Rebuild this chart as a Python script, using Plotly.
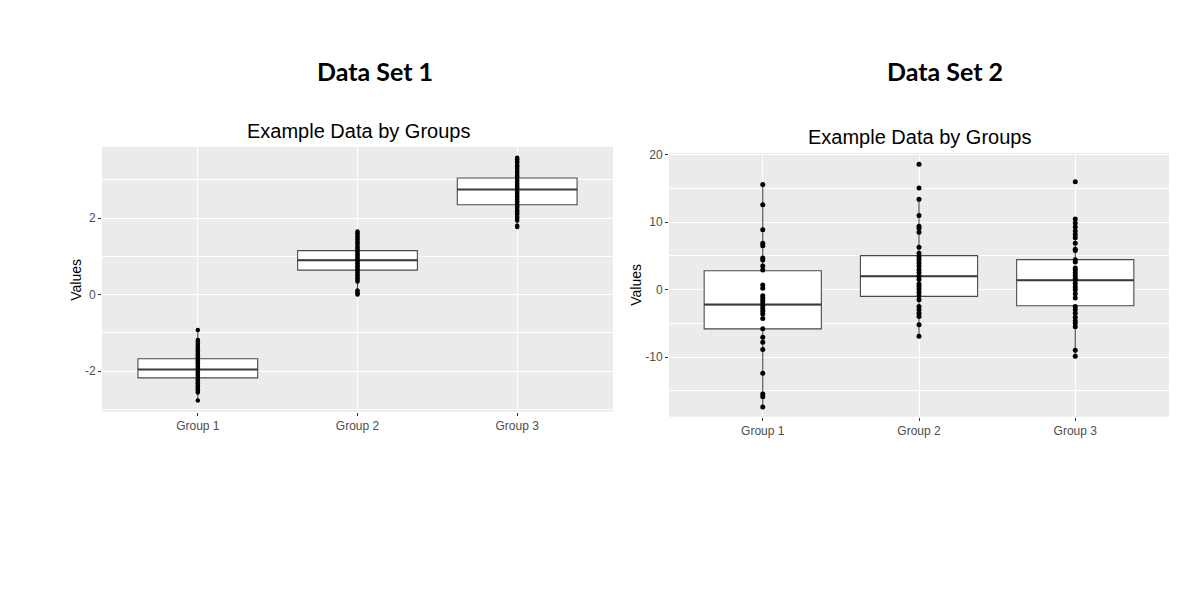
import plotly.graph_objects as go

groups = ["Group 1", "Group 2", "Group 3"]

# ---------- Data Set 1 ----------
ds1_g1 = [-0.93, -1.19, -1.23, -1.28, -1.32, -1.37, -1.41, -1.46, -1.50, -1.55, -1.59, -1.64,
          -1.68, -1.72, -1.76, -1.80, -1.84, -1.88, -1.92, -1.96, -2.00, -2.04, -2.08, -2.12,
          -2.16, -2.20, -2.24, -2.28, -2.32, -2.36, -2.40, -2.44, -2.48, -2.52, -2.56, -2.77]
ds1_g2 = [1.65, 1.61, 1.57, 1.52, 1.48, 1.44, 1.39, 1.35, 1.31, 1.26, 1.22, 1.18, 1.13, 1.09,
          1.05, 1.01, 0.97, 0.93, 0.90, 0.86, 0.82, 0.78, 0.74, 0.70, 0.66, 0.62, 0.58, 0.54,
          0.50, 0.46, 0.42, 0.38, 0.34, 0.11, 0.07, 0.03, 0.00]
ds1_g3 = [3.58, 3.54, 3.49, 3.45, 3.40, 3.36, 3.31, 3.27, 3.22, 3.18, 3.13, 3.09, 3.05, 3.00,
          2.96, 2.91, 2.87, 2.83, 2.79, 2.75, 2.70, 2.66, 2.62, 2.57, 2.53, 2.49, 2.44, 2.40,
          2.36, 2.31, 2.27, 2.22, 2.18, 2.13, 2.09, 2.04, 1.99, 1.94, 1.80, 1.77]
ds1_q1 = [-2.18, 0.64, 2.35]
ds1_median = [-1.96, 0.90, 2.75]
ds1_q3 = [-1.68, 1.15, 3.05]
ds1_lower = [-2.77, 0.00, 1.77]
ds1_upper = [-0.93, 1.65, 3.58]

# ---------- Data Set 2 ----------
ds2_g1 = [15.6, 12.6, 8.9, 6.9, 6.5, 4.7, 4.4, 3.5, 2.9, 0.7, 0.2, -0.9, -1.25, -1.6, -2.0,
          -2.4, -2.8, -3.2, -3.6, -4.3, -5.8, -7.05, -7.8, -8.9, -12.4, -15.5, -15.9, -17.4]
ds2_g2 = [18.6, 15.1, 13.4, 11.0, 9.4, 9.1, 8.5, 6.3, 5.4, 4.85, 4.45, 3.96, 3.5, 3.0, 2.5,
          2.0, 1.5, 0.83, 0.5, 0.1, -0.4, -0.9, -1.5, -2.5, -3.0, -3.5, -4.0, -5.2, -6.9]
ds2_g3 = [16.0, 10.5, 9.9, 9.3, 8.7, 8.2, 7.7, 6.9, 6.0, 5.8, 4.45, 4.1, 3.2, 2.9, 2.5, 2.1,
          1.7, 1.4, 0.9, 0.4, 0.0, -0.6, -1.25, -2.5, -3.0, -3.5, -4.1, -4.6, -5.0, -5.5,
          -9.0, -9.9]
ds2_q1 = [-5.82, -1.0, -2.4]
ds2_median = [-2.22, 1.98, 1.38]
ds2_q3 = [2.81, 5.04, 4.45]
ds2_lower = [-17.4, -6.9, -9.9]
ds2_upper = [15.6, 13.4, 10.5]

ds1_ticks = [-2, 0, 2]
ds2_ticks = [-10, 0, 10, 20]

BOX_LINE = "#4a4a4a"
PANEL_BG = "#EBEBEB"
TICK_FONT = dict(family="Liberation Sans, Arial, sans-serif", size=12, color="#4D4D4D")

fig = go.Figure()


def add_panel(xref, yref, q1, med, q3, lo, hi, pts, msize):
    fig.add_trace(go.Box(
        x=groups, q1=q1, median=med, q3=q3, lowerfence=lo, upperfence=hi,
        width=0.75, whiskerwidth=0, fillcolor="white",
        line=dict(color=BOX_LINE, width=1.1), boxpoints=False,
        xaxis=xref, yaxis=yref, showlegend=False, hoverinfo="skip"))
    # thicker median bar (degenerate box at the median)
    fig.add_trace(go.Box(
        x=groups, q1=med, median=med, q3=med, lowerfence=med, upperfence=med,
        width=0.75, whiskerwidth=0, fillcolor="rgba(0,0,0,0)",
        line=dict(color="#3a3a3a", width=2), boxpoints=False,
        xaxis=xref, yaxis=yref, showlegend=False, hoverinfo="skip"))
    xs, ys = [], []
    for g, vals in zip(groups, pts):
        xs += [g] * len(vals)
        ys += vals
    fig.add_trace(go.Scatter(
        x=xs, y=ys, mode="markers",
        marker=dict(color="black", size=msize),
        xaxis=xref, yaxis=yref, showlegend=False))


add_panel("x", "y", ds1_q1, ds1_median, ds1_q3, ds1_lower, ds1_upper,
          [ds1_g1, ds1_g2, ds1_g3], 4.5)
add_panel("x2", "y2", ds2_q1, ds2_median, ds2_q3, ds2_lower, ds2_upper,
          [ds2_g1, ds2_g2, ds2_g3], 5)

xaxis_common = dict(
    type="category", categoryorder="array", categoryarray=groups,
    range=[-0.6, 2.6], showgrid=True, gridcolor="white", gridwidth=1.1,
    zeroline=False, showline=False, ticks="outside", ticklen=3, tickcolor="#333333",
    tickfont=TICK_FONT, fixedrange=True)

W, H = 1200, 609
OX, OY = 8, 8  # page body margin offset


def px(x):
    return (x - OX) / W


def py(y):
    return 1 - (y - OY) / H


fig.update_layout(
    width=W, height=H,
    margin=dict(l=0, r=0, t=0, b=0),
    paper_bgcolor="white", plot_bgcolor=PANEL_BG,
    xaxis=dict(domain=[px(102), px(613)], anchor="y", **xaxis_common),
    yaxis=dict(domain=[py(410), py(143)], anchor="x",
               range=[-3.065, 3.865], tickvals=ds1_ticks,
               ticktext=[str(t) for t in ds1_ticks],
               showgrid=True, gridcolor="white", gridwidth=1.1, zeroline=False,
               ticks="outside", ticklen=3, tickcolor="#333333", tickfont=TICK_FONT,
               minor=dict(dtick=1, tick0=1, showgrid=True, gridcolor="white", gridwidth=0.5, ticks="")),
    xaxis2=dict(domain=[px(669), px(1169)], anchor="y2", **xaxis_common),
    yaxis2=dict(domain=[py(415), py(149)], anchor="x2",
                range=[-18.85, 20.3], tickvals=ds2_ticks,
                ticktext=[str(t) for t in ds2_ticks],
                showgrid=True, gridcolor="white", gridwidth=1.1, zeroline=False,
                ticks="outside", ticklen=3, tickcolor="#333333", tickfont=TICK_FONT,
                minor=dict(dtick=5, tick0=5, showgrid=True, gridcolor="white", gridwidth=0.5, ticks="")),
)

heading_font = dict(family="Lato, Carlito, sans-serif", size=25, color="black")
title_font = dict(family="Liberation Sans, Arial, sans-serif", size=20, color="black")
axis_title_font = dict(family="Liberation Sans, Arial, sans-serif", size=14, color="black")

annotations = [
    dict(text="<b>Data Set 1</b>", x=px(375), y=py(66), font=heading_font),
    dict(text="<b>Data Set 2</b>", x=px(945), y=py(66), font=heading_font),
    dict(text="Example Data by Groups", x=px(358), y=py(127), font=title_font),
    dict(text="Example Data by Groups", x=px(919), y=py(133), font=title_font),
    dict(text="Values", x=px(76), y=py(277), textangle=-90, font=axis_title_font),
    dict(text="Values", x=px(636), y=py(282), textangle=-90, font=axis_title_font),
]
for a in annotations:
    a.update(xref="paper", yref="paper", showarrow=False, xanchor="center", yanchor="middle")
fig.update_layout(annotations=annotations)

fig.write_html("out.html")
